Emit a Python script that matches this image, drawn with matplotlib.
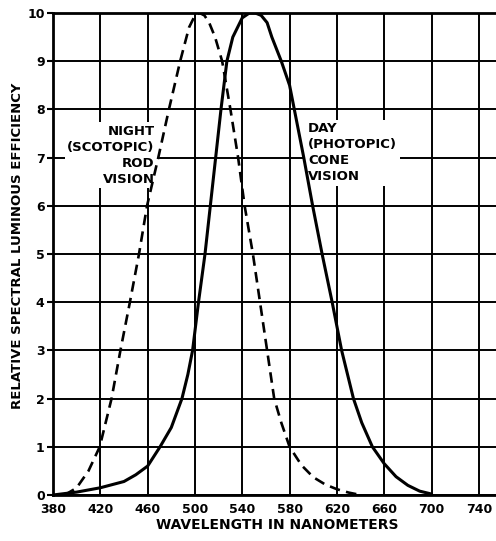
import matplotlib
matplotlib.use("Agg")
import matplotlib.pyplot as plt
import matplotlib.ticker as ticker

# photopic (day, cone) curve
day_nm = [380, 400, 420, 440, 450, 460, 470.5, 480, 489, 494, 498, 503, 508.5,
          513, 517.5, 522, 527, 532, 540, 546, 551, 556, 561, 565, 573, 580,
          584, 592, 599.5, 607.5, 616, 624, 634, 641, 650, 660, 670, 680, 690, 700]
day_val = [0.0, 0.06, 0.15, 0.28, 0.42, 0.6, 1.0, 1.4, 2.0, 2.5, 3.0, 4.0, 5.0,
           6.0, 7.0, 8.0, 9.0, 9.5, 9.9, 10.0, 10.0, 9.95, 9.8, 9.5, 9.0, 8.5,
           8.0, 7.0, 6.0, 5.0, 4.0, 3.0, 2.0, 1.5, 1.0, 0.65, 0.38, 0.2, 0.08, 0.02]

# scotopic (night, rod) curve
night_nm = [390, 400, 410, 419.5, 429.5, 437, 445, 452.7, 459.5, 469, 478, 487.5,
            495, 500, 504, 508, 512, 517, 523, 530, 536.5, 542, 549, 555,
            561, 567, 573, 580, 590, 600, 610, 620, 630, 640]
night_val = [0.0, 0.15, 0.5, 1.0, 2.0, 3.0, 4.0, 5.0, 6.0, 7.0, 8.0, 9.0,
             9.7, 9.95, 10.0, 9.95, 9.8, 9.5, 9.0, 8.0, 7.0, 6.0, 5.0, 4.0,
             3.0, 2.0, 1.5, 1.0, 0.62, 0.37, 0.22, 0.12, 0.05, 0.0]

x_ticks = [380, 420, 460, 500, 540, 580, 620, 660, 700, 740]
y_ticks = list(range(0, 11))

plt.rcParams["font.family"] = "DejaVu Sans"
plt.rcParams["font.weight"] = "bold"

fig = plt.figure(figsize=(4.96, 5.41), dpi=100)
fig.patch.set_facecolor("white")
ax = fig.add_axes([53 / 496, 1 - 495 / 541, 443 / 496, 482 / 541])

ax.set_xlim(380, 754.5)
ax.set_ylim(0, 10)
ax.xaxis.set_major_locator(ticker.FixedLocator(x_ticks))
ax.yaxis.set_major_locator(ticker.FixedLocator(y_ticks))
ax.tick_params(axis="x", length=0, pad=6, labelsize=9)
ax.tick_params(axis="y", length=4, width=1.5, pad=2, labelsize=9)
for lab in ax.get_xticklabels() + ax.get_yticklabels():
    lab.set_fontweight("bold")

ax.set_axisbelow(True)
ax.grid(True, color="black", linewidth=1.4)
for side in ("left", "bottom", "top"):
    ax.spines[side].set_linewidth(2.0)
ax.spines["right"].set_visible(False)

ax.plot(day_nm, day_val, color="black", linewidth=2.2, zorder=3,
        solid_capstyle="round", solid_joinstyle="round")
ax.plot(night_nm, night_val, color="black", linewidth=1.9, zorder=3,
        linestyle=(0, (4.0, 2.4)))

box = dict(facecolor="white", edgecolor="none", pad=2.0)
ax.text(466, 7.05, "NIGHT\n(SCOTOPIC)\nROD\nVISION", ha="right", va="center",
        multialignment="right", fontsize=9.5, fontweight="bold",
        linespacing=1.3, bbox=box, zorder=2.5)
ax.text(595.5, 7.1, "DAY\n(PHOTOPIC)\nCONE\nVISION", ha="left", va="center",
        multialignment="left", fontsize=9.5, fontweight="bold",
        linespacing=1.3, bbox=box, zorder=2.5)

fig.text(277 / 496, 1 - 525 / 541, "WAVELENGTH IN NANOMETERS", ha="center",
         va="center", fontsize=10, fontweight="bold")
fig.text(18 / 496, 1 - 246 / 541, "RELATIVE SPECTRAL LUMINOUS EFFICIENCY",
         ha="center", va="center", rotation=90, fontsize=9.5, fontweight="bold")

fig.savefig("out.png", dpi=100, facecolor="white")
